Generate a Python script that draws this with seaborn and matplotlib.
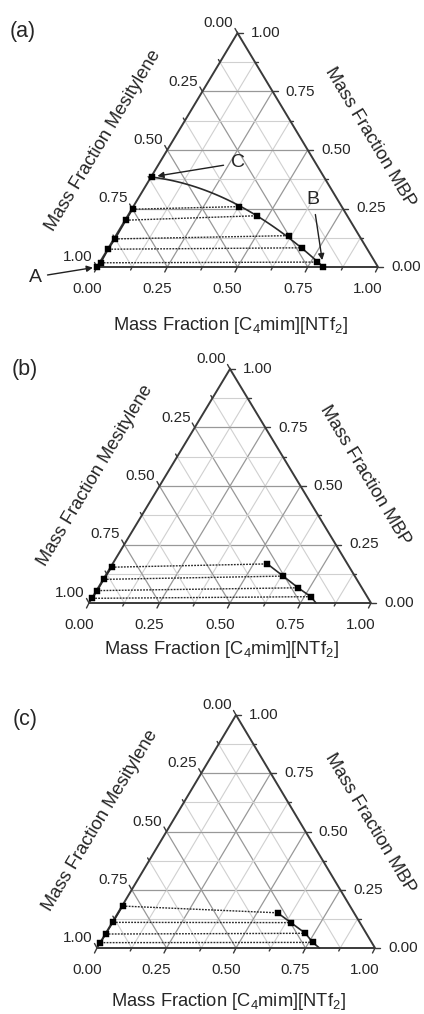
import numpy as np
import pandas as pd
import matplotlib
matplotlib.use("Agg")
import matplotlib.pyplot as plt
import seaborn as sns

sns.set_theme(style="white")
plt.rcParams['font.family'] = ['Liberation Sans', 'DejaVu Sans']
plt.rcParams['mathtext.fontset'] = 'custom'
plt.rcParams['mathtext.rm'] = 'Liberation Sans'
plt.rcParams['mathtext.it'] = 'Liberation Sans:italic'

# ---------------------------------------------------------------- data
TICK_VALUES = [0.0, 0.25, 0.50, 0.75, 1.0]
TICK_LABELS = ["0.00", "0.25", "0.50", "0.75", "1.00"]

# (a) tie-lines: mesitylene-rich phase / IL-rich phase (mass fractions)
a_mes_phase_il = [0.003, 0.003, 0.004, 0.002, 0.004]
a_mes_phase_mbp = [0.247, 0.200, 0.120, 0.076, 0.018]
a_il_phase_il = [0.375, 0.459, 0.615, 0.687, 0.771]
a_il_phase_mbp = [0.258, 0.219, 0.134, 0.082, 0.021]
a_point_c = (0.003, 0.385)   # C: end of binodal on the IL-free side
a_point_a = (0.000, 0.000)   # A
a_point_b = (0.805, 0.000)   # B

# (b)
b_mes_phase_il = [0.004, 0.002, 0.003, 0.001]
b_mes_phase_mbp = [0.153, 0.101, 0.053, 0.020]
b_il_phase_il = [0.549, 0.631, 0.709, 0.773]
b_il_phase_mbp = [0.167, 0.115, 0.065, 0.027]
b_curve_end = (0.805, 0.0)

# (c)
c_mes_phase_il = [0.002, 0.002, 0.001, 0.001]
c_mes_phase_mbp = [0.180, 0.110, 0.060, 0.023]
c_il_phase_il = [0.574, 0.643, 0.718, 0.764]
c_il_phase_mbp = [0.151, 0.109, 0.063, 0.024]
c_curve_end = (0.800, 0.0)

LEFT_TITLE = "Mass Fraction Mesitylene"
RIGHT_TITLE = "Mass Fraction MBP"
BOTTOM_TITLE = r"Mass Fraction [C$_4$mim][NTf$_2$]"

# ---------------------------------------------------------------- helpers
FW, FH = 424, 1014
H = np.sqrt(3) / 2
EDGE = "#3a3a3a"
MAJOR = "#989898"
MINOR = "#d0d0d0"
TEXT = "#262626"
TICK_FS = 11
TITLE_FS = 13.2


def cart(il, mbp):
    il = np.asarray(il, float)
    mbp = np.asarray(mbp, float)
    return il + 0.5 * mbp, mbp * H


def smooth_binodal(xs, ys, deg=2, n=120):
    # least-squares polynomial through the binodal points, y as a function of x
    coef = np.polyfit(xs, ys, deg)
    xx = np.linspace(min(xs), max(xs), n)
    yy = np.polyval(coef, xx)
    return xx, np.clip(yy, 0, None)


def px(x, y):
    return x / FW, 1 - y / FH


def draw_frame(ax, w_px, h_px):
    sx = 1.0 / w_px
    sy = H / h_px
    for k in range(1, 8):
        v = k / 8
        col, lw = (MAJOR, 0.9) if k % 2 == 0 else (MINOR, 0.8)
        x1, y1 = cart(0, v); x2, y2 = cart(1 - v, v)
        ax.plot([x1, x2], [y1, y2], color=col, lw=lw, zorder=1)
        x1, y1 = cart(v, 0); x2, y2 = cart(v, 1 - v)
        ax.plot([x1, x2], [y1, y2], color=col, lw=lw, zorder=1)
        x1, y1 = cart(1 - v, 0); x2, y2 = cart(0, 1 - v)
        ax.plot([x1, x2], [y1, y2], color=col, lw=lw, zorder=1)
    ax.plot([0, 1, 0.5, 0], [0, 0, H, 0], color=EDGE, lw=1.4, zorder=3,
            clip_on=False, solid_joinstyle="miter")
    for k in range(0, 9):
        v = k / 8
        L = 5 if k % 2 == 0 else 3
        ax.plot([v, v - 0.5 * L * sx], [0, -L * sy], color=EDGE, lw=1.0, clip_on=False)
        xr, yr = cart(1 - v, v)
        ax.plot([xr, xr + L * sx], [yr, yr], color=EDGE, lw=1.0, clip_on=False)
        xl, yl = cart(0, 1 - v)
        ax.plot([xl, xl - 0.5 * L * sx], [yl, yl + L * sy * 0.9], color=EDGE, lw=1.0, clip_on=False)
    for v, lab in zip(TICK_VALUES, TICK_LABELS):
        ax.annotate(lab, cart(v, 0), xytext=(-10, -22), textcoords="offset pixels",
                    ha="center", va="center", fontsize=TICK_FS, color=TEXT)
        ax.annotate(lab, cart(1 - v, v), xytext=(28, 0), textcoords="offset pixels",
                    ha="center", va="center", fontsize=TICK_FS, color=TEXT)
        ax.annotate(lab, cart(0, 1 - v), xytext=(-19, 10), textcoords="offset pixels",
                    ha="center", va="center", fontsize=TICK_FS, color=TEXT)


def draw_data(ax, mes_il, mes_mbp, il_il, il_mbp, curve_il, curve_mbp, smooth=False,
              extra_points=None):
    n = len(mes_il)
    tie = pd.DataFrame({
        "il": list(mes_il) + list(il_il),
        "mbp": list(mes_mbp) + list(il_mbp),
        "tie": list(range(n)) * 2,
        "end": [0] * n + [1] * n,
    }).sort_values(["tie", "end"])
    tie["x"], tie["y"] = cart(tie["il"], tie["mbp"])
    sns.lineplot(data=tie, x="x", y="y", units="tie", estimator=None, sort=False,
                 color="#2a2a2a", lw=1.0, linestyle=(0, (1.3, 0.9)), ax=ax, zorder=4,
                 legend=False)
    cx, cy = cart(curve_il, curve_mbp)
    if smooth:
        cx, cy = smooth_binodal(cx, cy)
    curve = pd.DataFrame({"x": cx, "y": cy})
    sns.lineplot(data=curve, x="x", y="y", sort=False, estimator=None, color="#2a2a2a",
                 lw=1.2, ax=ax, zorder=5, legend=False)
    left = pd.DataFrame({"il": mes_il, "mbp": mes_mbp})
    left["x"], left["y"] = cart(left["il"], left["mbp"])
    sns.lineplot(data=left, x="x", y="y", sort=False, estimator=None, color="#2a2a2a",
                 lw=1.2, ax=ax, zorder=5, legend=False)
    pts = pd.DataFrame({"il": list(mes_il) + list(il_il), "mbp": list(mes_mbp) + list(il_mbp)})
    if extra_points is not None:
        pts = pd.concat([pts, pd.DataFrame(extra_points, columns=["il", "mbp"])])
    pts["x"], pts["y"] = cart(pts["il"], pts["mbp"])
    sns.scatterplot(data=pts, x="x", y="y", marker="s", s=16, color="black",
                    edgecolor="black", linewidth=0.3, ax=ax, zorder=6, clip_on=False,
                    legend=False)
    for ln in ax.lines:
        ln.set_clip_on(False)


def make_axes(fig, bl, w_px, h_px):
    ax = fig.add_axes([bl[0] / FW, 1 - bl[1] / FH, w_px / FW, h_px / FH])
    ax.set_xlim(0, 1)
    ax.set_ylim(0, H)
    ax.set_axis_off()
    return ax


def titles(fig, bl, letter, letter_xy, bottom_dy, left_off, right_off, bottom_x):
    fig.text(*px(*letter_xy), letter, fontsize=15.5, color=TEXT, ha="center", va="center")
    fig.text(*px(bl[0] + left_off[0], bl[1] + left_off[1]), LEFT_TITLE, rotation=59,
             rotation_mode="anchor", ha="center", va="center", fontsize=TITLE_FS, color=TEXT)
    fig.text(*px(bl[0] + right_off[0], bl[1] + right_off[1]), RIGHT_TITLE, rotation=-59,
             rotation_mode="anchor", ha="center", va="center", fontsize=TITLE_FS, color=TEXT)
    fig.text(*px(bottom_x, bl[1] + bottom_dy), BOTTOM_TITLE, ha="center", va="center",
             fontsize=TITLE_FS, color=TEXT)


fig = plt.figure(figsize=(FW / 100, FH / 100), dpi=100)
fig.patch.set_facecolor("white")

# ---------------------------------------------------------------- panel (a)
bl_a, w_a, h_a = (97, 267), 281, 234
ax_a = make_axes(fig, bl_a, w_a, h_a)
draw_frame(ax_a, w_a, h_a)
draw_data(ax_a, a_mes_phase_il, a_mes_phase_mbp, a_il_phase_il, a_il_phase_mbp,
          [a_point_c[0]] + a_il_phase_il + [a_point_b[0]],
          [a_point_c[1]] + a_il_phase_mbp + [a_point_b[1]], smooth=True,
          extra_points=[a_point_a, a_point_b, a_point_c])
arrow = dict(arrowstyle="-|>", color="#202020", lw=1.0, mutation_scale=9)
ax_a.annotate("A", cart(*a_point_a), xytext=(-62, -10), textcoords="offset pixels",
              ha="center", va="center", fontsize=14, color=TEXT,
              arrowprops=dict(arrow, shrinkA=2, shrinkB=3))
ax_a.annotate("B", cart(*a_point_b), xytext=(-10, 67), textcoords="offset pixels",
              ha="center", va="center", fontsize=14, color=TEXT,
              arrowprops=dict(arrow, shrinkA=2, shrinkB=5))
ax_a.annotate("C", cart(*a_point_c), xytext=(86, 14), textcoords="offset pixels",
              ha="center", va="center", fontsize=14, color=TEXT,
              arrowprops=dict(arrow, shrinkA=3, shrinkB=4))
titles(fig, bl_a, "(a)", (23, 32), 58, (6, -127), (273, -130), 230)

# ---------------------------------------------------------------- panel (b)
bl_b, w_b, h_b = (89, 603), 282, 234
ax_b = make_axes(fig, bl_b, w_b, h_b)
draw_frame(ax_b, w_b, h_b)
draw_data(ax_b, b_mes_phase_il, b_mes_phase_mbp, b_il_phase_il, b_il_phase_mbp,
          b_il_phase_il + [b_curve_end[0]], b_il_phase_mbp + [b_curve_end[1]])
titles(fig, bl_b, "(b)", (25, 370), 47, (6, -128), (276, -128), 221)

# ---------------------------------------------------------------- panel (c)
bl_c, w_c, h_c = (97, 948), 278, 233
ax_c = make_axes(fig, bl_c, w_c, h_c)
draw_frame(ax_c, w_c, h_c)
draw_data(ax_c, c_mes_phase_il, c_mes_phase_mbp, c_il_phase_il, c_il_phase_mbp,
          c_il_phase_il + [c_curve_end[0]], c_il_phase_mbp + [c_curve_end[1]])
titles(fig, bl_c, "(c)", (25, 720), 54, (3, -128), (273, -125), 228)

fig.savefig("out.png", dpi=100, facecolor="white")
